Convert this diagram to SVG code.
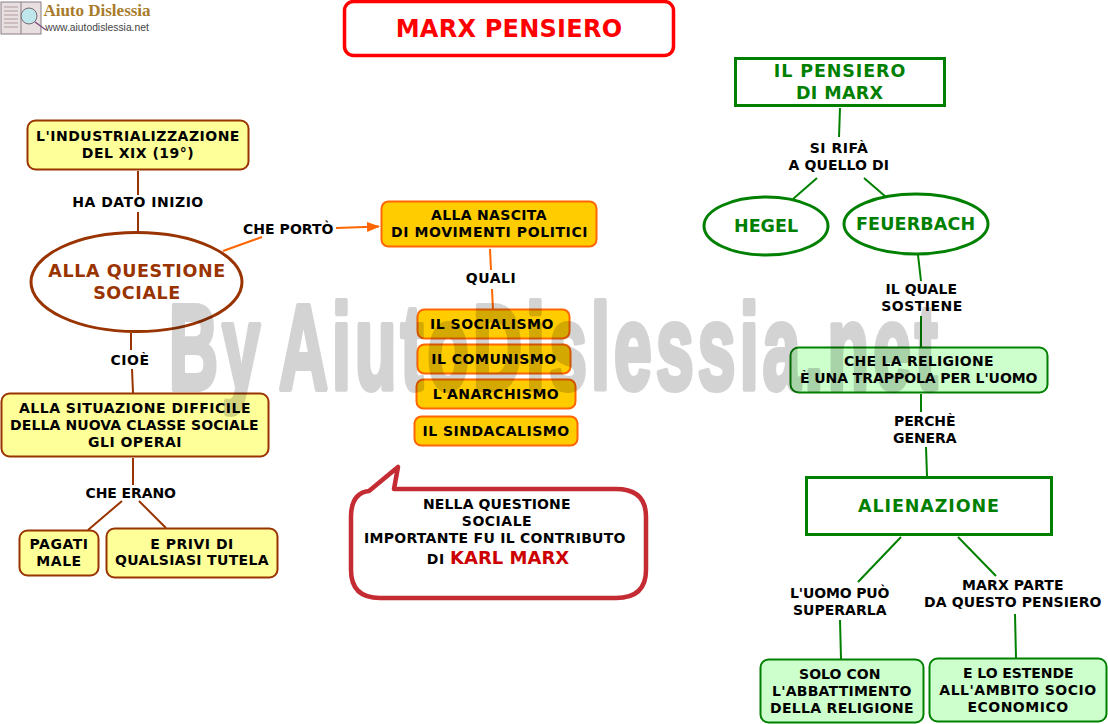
<svg xmlns="http://www.w3.org/2000/svg" width="1108" height="724" viewBox="0 0 1108 724">
<style>
text{font-family:"DejaVu Sans","Verdana",sans-serif;font-weight:bold;text-anchor:middle;font-size:14px;letter-spacing:.5px;fill:#000}
.y{fill:#ffff99;stroke:#993300;stroke-width:2}
.o{fill:#ffcc00;stroke:#ff6600;stroke-width:2}
.g{fill:#ccffcc;stroke:#008000;stroke-width:2}
.gb{fill:#fff;stroke:#008000;stroke-width:3}
.gt{fill:#008000;font-size:17.5px;letter-spacing:.9px}
.cb{stroke:#993300;stroke-width:2;fill:none}
.co{stroke:#ff6600;stroke-width:2;fill:none}
.cg{stroke:#008000;stroke-width:2;fill:none}
</style>
<defs><marker id="arr" markerWidth="14" markerHeight="12" refX="12" refY="5" orient="auto" markerUnits="userSpaceOnUse"><path d="M0 0L13 5L0 10Z" fill="#ff6600"/></marker></defs>
<g id="logo">
<rect x="1" y="2" width="40" height="32" fill="#e8dfe0" stroke="#8a7f85"/>
<line x1="21" y1="2" x2="21" y2="34" stroke="#8a7f85"/>
<path d="M4 7H18M4 11H18M4 15H18M4 19H18M4 23H18M4 27H18" stroke="#b09aa0"/>
<circle cx="29" cy="16" r="8" fill="#bfe6ea" stroke="#7a6a70"/>
<line x1="35" y1="22" x2="46" y2="30" stroke="#7a4a80" stroke-width="1.500"/>
<text x="97" y="16" style="font-family:'Liberation Serif',serif;font-size:17px;letter-spacing:0;fill:#a87b2a">Aiuto Dislessia</text>
<text x="97" y="31" style="font-family:'Liberation Sans',sans-serif;font-size:10.300px;letter-spacing:0;font-weight:normal;fill:#444">www.aiutodislessia.net</text>
</g>
<g id="connectors">
<path class="cb" d="M138 171V195M138 212L138 232"/>
<path class="co" d="M223 251L262 237"/>
<path class="co" d="M336 228L379 226.500" marker-end="url(#arr)"/>
<path class="cb" d="M131 333L131 350M132 369L133 393"/>
<path class="cb" d="M133 458L133 485M122 501L88 530M139 501L166 528"/>
<path class="co" d="M490 249L491 270M492 289L493 310"/>
<path class="cg" d="M840 108L839 137M817 178L793 199M864 178L886 197"/>
<path class="cg" d="M918 255L921 281M921 316L921 347"/>
<path class="cg" d="M921 394L921 412M926 447L927 476"/>
<path class="cg" d="M901 537L858 582M958 537L996 576"/>
<path class="cg" d="M840 620L841 659M1015 614L1016 658"/>
</g>
<g id="n-title"><rect x="344.500" y="1.500" width="329" height="54" rx="9" fill="#fff" stroke="#ff0000" stroke-width="3.500"/><text x="509" y="37" style="font-size:24px;letter-spacing:.25px;fill:#ff0000">MARX PENSIERO</text></g>
<g id="n-industria"><rect class="y" x="27.500" y="120.500" width="221" height="49" rx="8"/><text x="138" y="141">L'INDUSTRIALIZZAZIONE</text><text x="138" y="158">DEL XIX (19°)</text></g>
<g id="l-inizio"><text x="138" y="207">HA DATO INIZIO</text></g>
<g id="n-questione"><ellipse cx="136.500" cy="282" rx="105.500" ry="49.500" fill="#fff" stroke="#993300" stroke-width="3"/><text x="137" y="277" style="font-size:17.500px;letter-spacing:.6px;fill:#993300">ALLA QUESTIONE</text><text x="137" y="299" style="font-size:17.500px;letter-spacing:.6px;fill:#993300">SOCIALE</text></g>
<g id="l-porto"><text x="288.500" y="234" textLength="91">CHE PORTÒ</text></g>
<g id="n-nascita"><rect class="o" x="381.500" y="201.500" width="215" height="45" rx="7"/><text x="489" y="220" textLength="116">ALLA NASCITA</text><text x="489.500" y="237" textLength="197">DI MOVIMENTI POLITICI</text></g>
<g id="l-quali"><text x="491" y="283">QUALI</text></g>
<g id="n-soc"><rect class="o" x="417.500" y="309.500" width="152" height="29" rx="7"/><text x="492" y="329">IL SOCIALISMO</text></g>
<g id="n-com"><rect class="o" x="417.500" y="344.500" width="153" height="29" rx="7"/><text x="494" y="364">IL COMUNISMO</text></g>
<g id="n-ana"><rect class="o" x="416.500" y="379.500" width="159" height="29" rx="7"/><text x="496" y="399">L'ANARCHISMO</text></g>
<g id="n-sin"><rect class="o" x="414.500" y="416.500" width="163" height="29" rx="7"/><text x="496" y="436">IL SINDACALISMO</text></g>
<g id="l-cioe"><text x="130" y="365">CIOÈ</text></g>
<g id="n-situazione"><rect class="y" x="1.500" y="393.500" width="267" height="63" rx="8"/><text x="135" y="413">ALLA SITUAZIONE DIFFICILE</text><text x="134.500" y="430" textLength="249">DELLA NUOVA CLASSE SOCIALE</text><text x="135" y="447">GLI OPERAI</text></g>
<g id="l-erano"><text x="131" y="498" textLength="91">CHE ERANO</text></g>
<g id="n-pagati"><rect class="y" x="19.500" y="530.500" width="79" height="45" rx="8"/><text x="59" y="549">PAGATI</text><text x="59" y="566">MALE</text></g>
<g id="n-privi"><rect class="y" x="106.500" y="528.500" width="171" height="49" rx="8"/><text x="192" y="549">E PRIVI DI</text><text x="192" y="565" textLength="154">QUALSIASI TUTELA</text></g>
<g id="n-callout"><path d="M369 491L398 467L394 489H616Q646 489 646 517V570Q646 598 616 598H380Q351 598 351 570V517Q351 493 369 491Z" fill="#fff" stroke="#c42b32" stroke-width="4.500" stroke-linejoin="round"/>
<text x="497" y="509" textLength="148">NELLA QUESTIONE</text><text x="497" y="526">SOCIALE</text><text x="495" y="543" textLength="262">IMPORTANTE FU IL CONTRIBUTO</text><text x="498" y="564">DI <tspan style="font-size:18px;letter-spacing:0;fill:#cc0000">KARL MARX</tspan></text></g>
<g id="n-pensiero"><rect class="gb" x="735.500" y="58.500" width="209" height="47"/><text class="gt" x="840" y="77">IL PENSIERO</text><text class="gt" x="840" y="99" textLength="88">DI MARX</text></g>
<g id="l-rifa"><text x="839" y="153">SI RIFÀ</text><text x="839" y="170" textLength="101">A QUELLO DI</text></g>
<g id="n-hegel"><ellipse cx="766" cy="226" rx="62" ry="29" fill="#fff" stroke="#008000" stroke-width="3"/><text class="gt" x="766.500" y="232" textLength="65">HEGEL</text></g>
<g id="n-feuerbach"><ellipse cx="916" cy="224" rx="72" ry="30" fill="#fff" stroke="#008000" stroke-width="3"/><text class="gt" x="916" y="230" textLength="120">FEUERBACH</text></g>
<g id="l-sostiene"><text x="921.500" y="294" textLength="72">IL QUALE</text><text x="922" y="311">SOSTIENE</text></g>
<g id="n-religione"><rect class="g" x="790.500" y="347.500" width="257" height="45" rx="8"/><text x="919" y="366" textLength="150">CHE LA RELIGIONE</text><text x="919" y="383" textLength="238">È UNA TRAPPOLA PER L'UOMO</text></g>
<g id="l-genera"><text x="925" y="426" textLength="62">PERCHÈ</text><text x="925" y="443" textLength="64">GENERA</text></g>
<g id="n-alienazione"><rect class="gb" x="806.500" y="477.500" width="245" height="57"/><text class="gt" x="929" y="512">ALIENAZIONE</text></g>
<g id="l-superarla"><text x="840" y="598" textLength="100">L'UOMO PUÒ</text><text x="840" y="615" textLength="94">SUPERARLA</text></g>
<g id="l-marxparte"><text x="1013" y="590" textLength="102">MARX PARTE</text><text x="1013" y="607" textLength="178">DA QUESTO PENSIERO</text></g>
<g id="n-solo"><rect class="g" x="760.500" y="659.500" width="163" height="63" rx="8"/><text x="840" y="679" textLength="82">SOLO CON</text><text x="842" y="696" textLength="140">L'ABBATTIMENTO</text><text x="842" y="713" textLength="144">DELLA RELIGIONE</text></g>
<g id="n-estende"><rect class="g" x="929.500" y="658.500" width="177" height="63" rx="8"/><text x="1018.500" y="678" textLength="111">E LO ESTENDE</text><text x="1018" y="695">ALL'AMBITO SOCIO</text><text x="1018" y="712">ECONOMICO</text></g>
<text id="watermark" transform="translate(169 389) scale(.56 1)" x="0" y="0" style="font-family:'Liberation Sans',sans-serif;font-size:121px;letter-spacing:7.500px;word-spacing:-10px;text-anchor:start;fill:#000;stroke:#000;stroke-width:6px;stroke-linejoin:round;opacity:.17">By AiutoDislessia.net</text>
</svg>
